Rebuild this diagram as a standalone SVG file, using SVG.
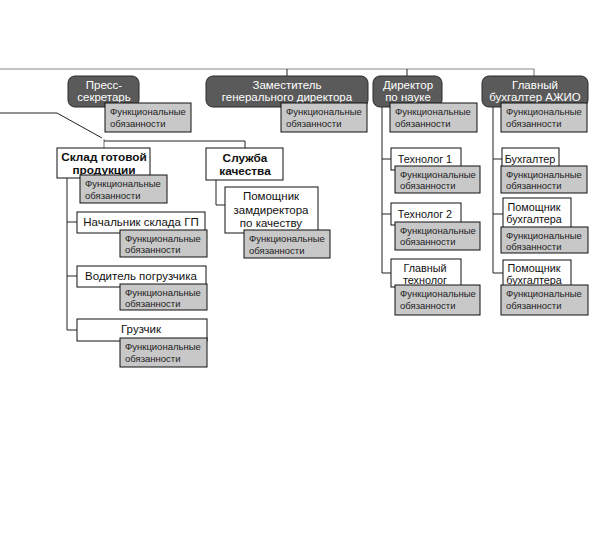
<svg xmlns="http://www.w3.org/2000/svg" width="596" height="543" viewBox="0 0 596 543">
<style>
text{font-family:"Liberation Sans",Arial,sans-serif;}
.dk{fill:#5a5a5a;stroke:#2a2a2a;stroke-width:1}
.dt{fill:#fff;font-size:11.5px;text-anchor:middle}
.wb{fill:#fff;stroke:#111;stroke-width:1}
.wt{fill:#111;font-size:11.5px;text-anchor:middle}
.rt{fill:#111;font-size:10.8px;text-anchor:middle}
.bt{fill:#111;font-size:11.8px;font-weight:bold;text-anchor:middle}
.fb{fill:#c8c8c8;stroke:#111;stroke-width:1}
.ft{fill:#222;font-size:9.5px}
.ln{fill:none;stroke:#222;stroke-width:1}
.lg{fill:none;stroke:#888;stroke-width:1.2}
</style>
<rect width="596" height="543" fill="#fff"/>
<g id="connectors">
<path class="lg" d="M0 69H534V76"/>
<path class="ln" d="M287 69V76M407 69V76"/>
<path class="ln" d="M0 113H57L102 138"/>
<path class="lg" d="M104 139V148"/>
<path class="ln" d="M104 141H245V148"/>
<path class="ln" d="M67 178V330H77M67 222H77M67 276H77"/>
<path class="ln" d="M216 180V205H225"/>
<path class="ln" d="M382 107V273H391M382 159H391M382 214H391"/>
<path class="ln" d="M493 107V273H503M493 159H502M493 214H503"/>
</g>
<g id="press">
<rect class="dk" x="68" y="76" width="71" height="31" rx="7"/>
<text class="dt" x="104" y="89">Пресс-</text>
<text class="dt" x="104" y="101">секретарь</text>
<rect class="fb" x="105" y="103" width="86" height="29"/>
<text class="ft" x="110" y="115">Функциональные</text>
<text class="ft" x="110" y="127">обязанности</text>
</g>
<g id="deputy">
<rect class="dk" x="206" y="76" width="162" height="31" rx="7"/>
<text class="dt" x="287" y="89">Заместитель</text>
<text class="dt" x="287" y="101">генерального директора</text>
<rect class="fb" x="281" y="103" width="86" height="29"/>
<text class="ft" x="286" y="115">Функциональные</text>
<text class="ft" x="286" y="127">обязанности</text>
</g>
<g id="director">
<rect class="dk" x="373" y="76" width="69" height="31" rx="7"/>
<text class="dt" x="408" y="89">Директор</text>
<text class="dt" x="408" y="101">по науке</text>
<rect class="fb" x="390" y="103" width="87" height="29"/>
<text class="ft" x="395" y="115">Функциональные</text>
<text class="ft" x="395" y="127">обязанности</text>
</g>
<g id="glavbukh">
<rect class="dk" x="482" y="76" width="106" height="31" rx="7"/>
<text class="dt" x="535" y="89">Главный</text>
<text class="dt" x="535" y="101">бухгалтер АЖИО</text>
<rect class="fb" x="501" y="103" width="86" height="29"/>
<text class="ft" x="506" y="115">Функциональные</text>
<text class="ft" x="506" y="127">обязанности</text>
</g>
<g id="sklad">
<rect class="wb" x="57" y="148" width="93" height="30"/>
<text class="bt" x="104" y="161">Склад готовой</text>
<text class="bt" x="104" y="174">продукции</text>
<rect class="fb" x="80" y="175" width="87" height="28"/>
<text class="ft" x="85" y="187">Функциональные</text>
<text class="ft" x="85" y="199">обязанности</text>
</g>
<g id="nachalnik">
<rect class="wb" x="77" y="212" width="128" height="21"/>
<text class="wt" x="141" y="226">Начальник склада ГП</text>
<rect class="fb" x="120" y="230" width="87" height="27"/>
<text class="ft" x="125" y="242">Функциональные</text>
<text class="ft" x="125" y="253">обязанности</text>
</g>
<g id="voditel">
<rect class="wb" x="77" y="266" width="129" height="21"/>
<text class="wt" x="141" y="280">Водитель погрузчика</text>
<rect class="fb" x="120" y="284" width="87" height="26"/>
<text class="ft" x="125" y="296">Функциональные</text>
<text class="ft" x="125" y="307">обязанности</text>
</g>
<g id="gruzchik">
<rect class="wb" x="77" y="319" width="130" height="22"/>
<text class="wt" x="141" y="333">Грузчик</text>
<rect class="fb" x="120" y="338" width="87" height="29"/>
<text class="ft" x="125" y="350">Функциональные</text>
<text class="ft" x="125" y="362">обязанности</text>
</g>
<g id="sluzhba">
<rect class="wb" x="206" y="148" width="77" height="32"/>
<text class="bt" x="245" y="162">Служба</text>
<text class="bt" x="245" y="175">качества</text>
</g>
<g id="pomzam">
<rect class="wb" x="225" y="187" width="93" height="46"/>
<text class="wt" x="271" y="200">Помощник</text>
<text class="wt" x="271" y="214">замдиректора</text>
<text class="wt" x="271" y="227">по качеству</text>
<rect class="fb" x="244" y="230" width="86" height="28"/>
<text class="ft" x="249" y="242">Функциональные</text>
<text class="ft" x="249" y="254">обязанности</text>
</g>
<g id="tech1">
<rect class="wb" x="391" y="148" width="70" height="22"/>
<text class="rt" x="425" y="163">Технолог 1</text>
<rect class="fb" x="395" y="166" width="85" height="27"/>
<text class="ft" x="400" y="178">Функциональные</text>
<text class="ft" x="400" y="189">обязанности</text>
</g>
<g id="tech2">
<rect class="wb" x="391" y="203" width="70" height="22"/>
<text class="rt" x="425" y="218">Технолог 2</text>
<rect class="fb" x="395" y="222" width="85" height="28"/>
<text class="ft" x="400" y="234">Функциональные</text>
<text class="ft" x="400" y="245">обязанности</text>
</g>
<g id="glavtech">
<rect class="wb" x="391" y="259" width="70" height="28"/>
<text class="rt" x="425" y="272">Главный</text>
<text class="rt" x="425" y="284">технолог</text>
<rect class="fb" x="395" y="285" width="85" height="30"/>
<text class="ft" x="400" y="297">Функциональные</text>
<text class="ft" x="400" y="309">обязанности</text>
</g>
<g id="buh">
<rect class="wb" x="502" y="148" width="57" height="22"/>
<text class="rt" x="530" y="163">Бухгалтер</text>
<rect class="fb" x="501" y="166" width="86" height="27"/>
<text class="ft" x="506" y="178">Функциональные</text>
<text class="ft" x="506" y="189">обязанности</text>
</g>
<g id="pombuh1">
<rect class="wb" x="503" y="198" width="68" height="31"/>
<text class="rt" x="534" y="211">Помощник</text>
<text class="rt" x="534" y="223">бухгалтера</text>
<rect class="fb" x="501" y="227" width="87" height="26"/>
<text class="ft" x="506" y="239">Функциональные</text>
<text class="ft" x="506" y="250">обязанности</text>
</g>
<g id="pombuh2">
<rect class="wb" x="503" y="260" width="68" height="28"/>
<text class="rt" x="534" y="272">Помощник</text>
<text class="rt" x="534" y="284">бухгалтера</text>
<rect class="fb" x="501" y="285" width="87" height="30"/>
<text class="ft" x="506" y="297">Функциональные</text>
<text class="ft" x="506" y="309">обязанности</text>
</g>
</svg>
